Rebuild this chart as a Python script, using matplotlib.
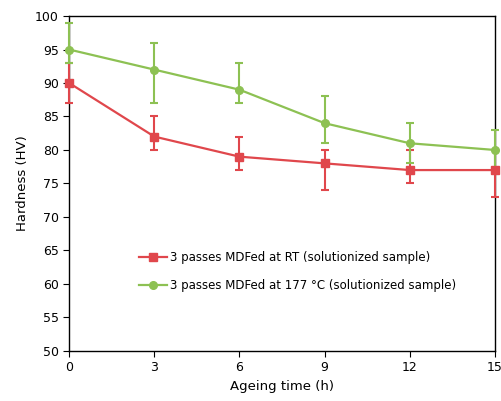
import matplotlib.pyplot as plt

time_h = [0, 3, 6, 9, 12, 15]

rt_hv = [90, 82, 79, 78, 77, 77]
rt_err_lo = [3, 2, 2, 4, 2, 4]
rt_err_hi = [3, 3, 3, 2, 3, 3]

hot_hv = [95, 92, 89, 84, 81, 80]
hot_err_lo = [2, 5, 2, 3, 3, 3]
hot_err_hi = [4, 4, 4, 4, 3, 3]

rt_label = '3 passes MDFed at RT (solutionized sample)'
hot_label = '3 passes MDFed at 177 °C (solutionized sample)'

red = '#e0474c'
green = '#8dc153'

fig = plt.figure(figsize=(5.01, 4.01), dpi=100)
ax = fig.add_axes([0.138, 0.125, 0.850, 0.835])

for y, lo, hi, c, m, lab in [(rt_hv, rt_err_lo, rt_err_hi, red, 's', rt_label),
                             (hot_hv, hot_err_lo, hot_err_hi, green, 'o', hot_label)]:
    ax.errorbar(time_h, y, yerr=[lo, hi], fmt='none', ecolor=c,
                elinewidth=1.5, capsize=3, capthick=1.5, clip_on=False, zorder=3)
    ax.plot(time_h, y, color=c, marker=m, markersize=5.5, linewidth=1.6,
            label=lab, clip_on=False, zorder=4)

ax.set_xlim(0, 15)
ax.set_ylim(50, 100)
ax.set_xticks([0, 3, 6, 9, 12, 15])
ax.set_yticks(range(50, 101, 5))
ax.tick_params(direction='out', length=4, labelsize=9, colors='black')
for s in ax.spines.values():
    s.set_color('black')
    s.set_linewidth(1.0)

ax.set_xlabel('Ageing time (h)', fontsize=9.5)
ax.set_ylabel('Hardness (HV)', fontsize=9.5)

ax.legend(loc='upper left', bbox_to_anchor=(0.14, 0.33), frameon=False,
          fontsize=8.5, handlelength=2.3, handletextpad=0.3, labelspacing=1.3)

fig.savefig('out.png', dpi=100)
